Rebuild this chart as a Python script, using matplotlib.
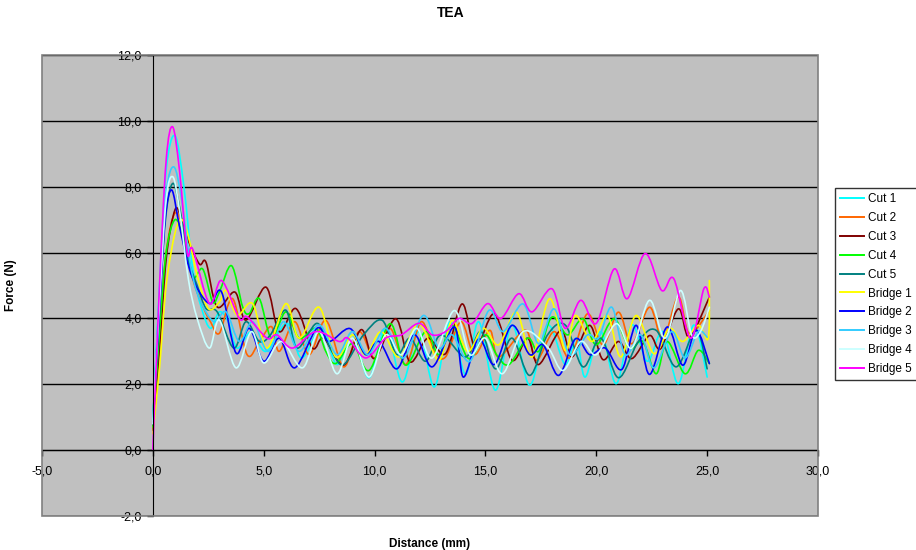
import matplotlib
matplotlib.use("Agg")
import matplotlib.pyplot as plt
from matplotlib.ticker import FuncFormatter, MultipleLocator
from matplotlib.patches import Rectangle, PathPatch
from matplotlib.path import Path
from matplotlib.lines import Line2D

plt.rcParams['font.family'] = ['Liberation Sans', 'DejaVu Sans']

title = "TEA"
x_label = "Distance (mm)"
y_label = "Force (N)"

names = ["Cut 1", "Cut 2", "Cut 3", "Cut 4", "Cut 5",
         "Bridge 1", "Bridge 2", "Bridge 3", "Bridge 4", "Bridge 5"]
colors = ["#00FFFF", "#FF6600", "#800000", "#00FF00", "#008080",
          "#FFFF00", "#0000FF", "#33CCFF", "#CCFFFF", "#FF00FF"]

cut1_x = [0, 0.3, 0.6, 1.0, 1.4, 1.8, 2.2, 2.6, 3.0, 3.4, 3.8, 4.45, 5.1, 6.05, 6.7, 7.6, 8.3, 9.0, 9.75, 10.5,
          11.25, 12.0, 12.7, 13.4, 14.1, 14.7, 15.45, 16.2, 17.0, 17.8, 18.6, 19.1, 19.5, 20.2, 20.9, 21.6, 22.3,
          23.0, 23.7, 24.4, 25.0]
cut1_y = [0.8, 5.0, 8.5, 9.55, 8.0, 5.5, 4.3, 3.7, 4.2, 3.9, 3.1, 3.6, 3.0, 3.85, 2.8, 3.7, 2.6, 3.5, 2.2, 3.7,
          2.07, 3.6, 1.92, 3.9, 2.3, 3.9, 1.82, 3.8, 1.97, 3.8, 2.6, 3.4, 2.22, 3.6, 2.02, 3.8, 2.7,
          3.6, 2.02, 3.8, 2.22]

cut2_x = [0, 0.3, 0.6, 1.0, 1.4, 1.8, 2.3, 2.6, 3.0, 3.6, 4.25, 4.8, 5.35, 5.7, 6.4, 7.05, 7.8, 8.6, 9.3, 10.0,
          10.7, 11.4, 12.1, 12.7, 13.2, 13.9, 14.5, 15.2, 15.6, 16.8, 17.3, 18.1, 18.8, 19.6, 20.3, 21.0, 21.6,
          22.4, 23.0, 23.7, 24.2, 25.1]
cut2_y = [0.7, 3.5, 6.0, 7.2, 6.6, 5.2, 4.3, 3.9, 3.55, 4.6, 2.9, 3.3, 3.75, 3.0, 3.9, 2.9, 3.94, 2.53, 3.6, 2.8,
          3.7, 2.6, 3.9, 3.0, 2.83, 3.9, 2.9, 3.64, 2.83, 3.64, 2.73, 3.6, 2.8, 4.14, 3.2, 4.19, 3.23,
          4.34, 3.38, 4.65, 3.54, 4.24]

cut3_x = [0, 0.3, 0.6, 1.0, 1.3, 1.6, 2.1, 2.4, 2.9, 3.7, 4.2, 5.1, 5.7, 6.45, 7.2, 7.7, 8.6, 9.4, 10.0, 10.95,
          11.6, 12.4, 13.2, 13.95, 14.55, 15.4, 16.2, 16.9, 17.4, 18.4, 18.9, 19.7, 20.3, 21.0, 21.6, 22.4,
          22.9, 23.7, 24.2, 25.1]
cut3_y = [0.6, 3.0, 5.8, 7.3, 7.0, 6.36, 5.65, 5.7, 4.35, 4.8, 3.95, 4.95, 3.6, 4.3, 3.1, 3.4, 2.58, 3.66, 2.78, 3.99,
          2.68, 3.4, 2.93, 4.44, 3.13, 4.14, 2.73, 3.4, 2.6, 3.64, 2.83, 3.79, 2.75, 3.3, 2.78, 3.48,
          3.08, 4.29, 3.43, 4.65]

cut4_x = [0, 0.3, 0.6, 1.0, 1.4, 1.8, 2.25, 2.7, 3.0, 3.55, 4.05, 4.35, 4.8, 5.35, 6.0, 6.6, 7.35, 7.8, 8.25, 9.0,
          9.75, 10.7, 11.4, 12.3, 12.9, 13.5, 14.25, 15.0, 15.5, 16.06, 16.9, 17.4, 18.0, 18.7, 19.4, 20.0,
          20.8, 21.5, 22.1, 22.7, 23.2, 24.0, 24.6, 25.1]
cut4_y = [0.7, 3.6, 6.0, 7.0, 6.4, 5.25, 5.5, 4.5, 4.8, 5.6, 4.35, 4.15, 4.6, 3.4, 4.2, 3.4, 3.7, 3.0, 2.63, 3.23,
          2.42, 3.84, 2.58, 3.6, 2.9, 3.79, 2.78, 3.5, 2.9, 2.6, 3.4, 3.0, 4.04, 3.5, 3.99, 3.2,
          3.99, 3.1, 3.3, 2.32, 3.3, 2.32, 3.03, 2.63]

cut5_x = [0, 0.3, 0.6, 0.9, 1.2, 1.6, 2.0, 2.4, 2.9, 3.65, 4.2, 4.8, 5.3, 6.0, 6.5, 7.4, 8.0, 8.6, 9.5, 10.35,
          11.0, 11.6, 12.3, 13.0, 14.1, 14.8, 15.45, 16.2, 17.0, 17.8, 18.6, 19.4, 20.2, 21.0, 21.9, 22.7,
          23.6, 24.5, 25.0]
cut5_y = [0.9, 4.5, 7.2, 8.1, 7.4, 5.8, 5.0, 4.3, 4.2, 3.1, 3.9, 3.3, 3.5, 4.25, 3.1, 3.85, 3.1, 2.6, 3.5, 3.94,
          2.9, 3.4, 2.7, 3.5, 2.83, 3.6, 2.47, 3.4, 2.27, 3.5, 3.8, 2.53, 3.4, 2.2, 3.3, 3.64,
          2.53, 3.64, 2.47]

br1_x = [0, 0.3, 0.6, 1.0, 1.3, 1.6, 2.0, 2.5, 3.0, 3.3, 3.8, 4.5, 5.15, 6.0, 6.6, 7.5, 8.25, 9.0, 9.6, 10.3,
         11.1, 12.0, 12.9, 13.5, 14.2, 14.9, 15.6, 16.4, 17.1, 17.9, 18.6, 19.06, 19.8, 20.5, 21.1, 21.8,
         22.6, 23.3, 23.9, 24.6, 25.05, 25.1]
br1_y = [0.5, 2.5, 5.0, 6.6, 7.0, 6.5, 5.3, 4.3, 4.5, 4.85, 4.1, 4.45, 3.1, 4.45, 3.4, 4.34, 2.83, 3.5, 2.9, 3.6,
         2.83, 3.84, 2.73, 3.94, 3.0, 3.7, 3.2, 4.19, 2.83, 4.6, 3.03, 4.09, 3.3, 4.09, 2.83, 4.09,
         2.93, 3.7, 3.3, 3.79, 3.4, 5.15]

br2_x = [0, 0.3, 0.55, 0.85, 1.2, 1.65, 2.1, 2.6, 3.1, 3.75, 4.35, 5.0, 5.7, 6.4, 7.4, 7.95, 8.9, 9.6, 10.2, 11.0,
         11.8, 12.6, 13.6, 14.0, 14.7, 15.4, 16.2, 17.0, 17.6, 18.3, 19.06, 19.7, 20.4, 21.15, 21.8, 22.4,
         23.2, 23.9, 24.5, 25.1]
br2_y = [0.8, 4.2, 7.0, 7.9, 6.8, 5.5, 4.8, 4.45, 4.8, 2.95, 3.7, 2.7, 3.4, 2.5, 3.7, 3.3, 3.69, 2.9, 3.3, 2.47,
         3.5, 2.53, 3.74, 2.22, 3.38, 2.6, 3.79, 2.9, 3.2, 2.27, 3.38, 2.9, 3.1, 2.45, 3.79, 2.3,
         3.74, 2.58, 3.64, 2.63]

br3_x = [0, 0.3, 0.6, 0.95, 1.3, 1.7, 2.1, 2.75, 3.3, 3.9, 4.5, 5.2, 5.9, 6.6, 7.5, 8.3, 9.0, 9.7, 10.5, 11.3,
         12.2, 12.9, 13.5, 14.3, 15.15, 15.8, 16.7, 17.4, 18.1, 18.8, 19.6, 20.1, 20.7, 21.3, 22.0, 22.6,
         23.4, 24.0, 24.6, 25.0]
br3_y = [0.9, 4.8, 7.8, 8.6, 7.6, 5.6, 4.6, 3.9, 4.2, 3.3, 3.9, 3.0, 3.9, 3.0, 3.8, 2.9, 3.6, 2.9, 3.7, 2.8,
         4.09, 3.1, 3.5, 2.7, 4.24, 3.6, 4.44, 3.23, 4.29, 2.9, 3.5, 3.4, 4.34, 2.9, 3.5, 2.5,
         3.6, 2.8, 3.6, 3.43]

br4_x = [0, 0.3, 0.6, 0.9, 1.2, 1.6, 2.0, 2.55, 3.0, 3.75, 4.45, 5.0, 5.8, 6.75, 7.5, 8.3, 9.0, 9.75, 10.5, 11.2,
         11.9, 12.6, 13.6, 14.3, 15.0, 15.76, 16.7, 17.8, 18.5, 19.3, 20.0, 20.9, 21.6, 22.4, 23.1, 23.8,
         24.3, 24.7, 25.1]
br4_y = [0.8, 4.5, 7.6, 8.3, 7.3, 5.2, 4.0, 3.1, 3.95, 2.5, 3.6, 2.65, 3.3, 2.5, 3.6, 2.32, 3.4, 2.22, 3.5, 2.9,
         3.7, 2.8, 4.24, 2.9, 3.4, 2.32, 3.6, 3.13, 2.42, 3.3, 2.9, 3.84, 3.1, 4.55, 3.4, 4.85,
         3.5, 3.6, 4.34]

br5_x = [0, 0.3, 0.6, 0.89, 1.2, 1.55, 1.8, 2.55, 3.1, 3.9, 4.25, 5.15, 5.6, 6.3, 7.35, 8.4, 8.8, 9.6, 10.5, 11.2,
         12.0, 12.6, 13.2, 13.8, 14.4, 15.1, 15.7, 16.5, 17.1, 18.0, 18.6, 19.3, 20.0, 20.8, 21.4, 22.2,
         22.95, 23.5, 24.25, 24.85, 25.1]
br5_y = [0.0, 5.0, 8.8, 9.82, 8.5, 6.0, 6.1, 4.45, 5.15, 4.0, 4.05, 3.4, 3.5, 3.1, 3.6, 3.3, 3.4, 2.8, 3.4, 3.5,
         3.85, 3.5, 3.6, 4.0, 3.85, 4.45, 4.0, 4.75, 4.2, 4.9, 3.7, 4.55, 3.85, 5.5, 4.6, 5.97,
         4.85, 5.2, 3.4, 4.9, 4.65]

series_x = [cut1_x, cut2_x, cut3_x, cut4_x, cut5_x, br1_x, br2_x, br3_x, br4_x, br5_x]
series_y = [cut1_y, cut2_y, cut3_y, cut4_y, cut5_y, br1_y, br2_y, br3_y, br4_y, br5_y]


def smooth_path(xs, ys):
    """Excel-style smoothed line: Bezier segments through the data points."""
    pts = list(zip(xs, ys))
    n = len(pts)
    verts = [pts[0]]
    codes = [Path.MOVETO]
    for i in range(n - 1):
        p0 = pts[i - 1] if i > 0 else pts[i]
        p1 = pts[i]
        p2 = pts[i + 1]
        p3 = pts[i + 2] if i + 2 < n else pts[i + 1]
        c1 = (p1[0] + (p2[0] - p0[0]) / 6.0, p1[1] + (p2[1] - p0[1]) / 6.0)
        c2 = (p2[0] - (p3[0] - p1[0]) / 6.0, p2[1] - (p3[1] - p1[1]) / 6.0)
        verts += [c1, c2, p2]
        codes += [Path.CURVE4, Path.CURVE4, Path.CURVE4]
    return Path(verts, codes)


fig = plt.figure(figsize=(9.16, 5.5), dpi=100)
ax = fig.add_axes([42/916, 34/550, 776/916, 461/550])
ax.set_facecolor("#C0C0C0")

handles = []
for xs, ys, nm, c in zip(series_x, series_y, names, colors):
    patch = PathPatch(smooth_path(xs, ys), facecolor='none', edgecolor=c, lw=1.2,
                      transform=ax.transData, zorder=3, capstyle='round', joinstyle='round')
    ax.add_patch(patch)
    handles.append(Line2D([], [], color=c, lw=1.4, label=nm))

ax.set_xlim(-5, 30)
ax.set_ylim(-2, 12)
ax.xaxis.set_major_locator(MultipleLocator(5))
ax.yaxis.set_major_locator(MultipleLocator(2))
fmt = FuncFormatter(lambda v, p: f"{v:.1f}".replace('.', ','))
ax.xaxis.set_major_formatter(fmt)
ax.yaxis.set_major_formatter(fmt)

ax.yaxis.grid(True, color="black", lw=1, zorder=1)
ax.set_axisbelow(True)

for s in ['top', 'right']:
    ax.spines[s].set_visible(False)
ax.spines['left'].set_position(('data', 0))
ax.spines['bottom'].set_position(('data', 0))
ax.spines['left'].set_zorder(4)
ax.spines['bottom'].set_zorder(4)
ax.add_patch(Rectangle((0, 0), 1, 1, transform=ax.transAxes, fill=False,
                       edgecolor="#808080", lw=1.2, clip_on=False, zorder=5))

ax.tick_params(axis='both', direction='out', length=4, width=1, labelsize=9, colors='black')
ax.tick_params(axis='x', pad=7)
ax.tick_params(axis='y', pad=4)

ax.set_xlabel(x_label, fontsize=8.5, fontweight='bold')
ax.set_ylabel(y_label, fontsize=8.5, fontweight='bold')
ax.xaxis.set_label_coords(0.5, -0.047)
ax.yaxis.set_label_coords(-0.032, 0.5)

fig.text(451/916, 1 - 13/550, title, ha='center', va='center', fontsize=10, fontweight='bold')

leg = fig.legend(handles=handles, loc='upper left', bbox_to_anchor=(835/916, 1 - 188/550), fontsize=8.5,
                 frameon=True, fancybox=False, edgecolor='black', handlelength=2.0,
                 handletextpad=0.35, labelspacing=0.58, borderpad=0.45, borderaxespad=0)
leg.get_frame().set_linewidth(1)

fig.savefig("out.png", dpi=100)
